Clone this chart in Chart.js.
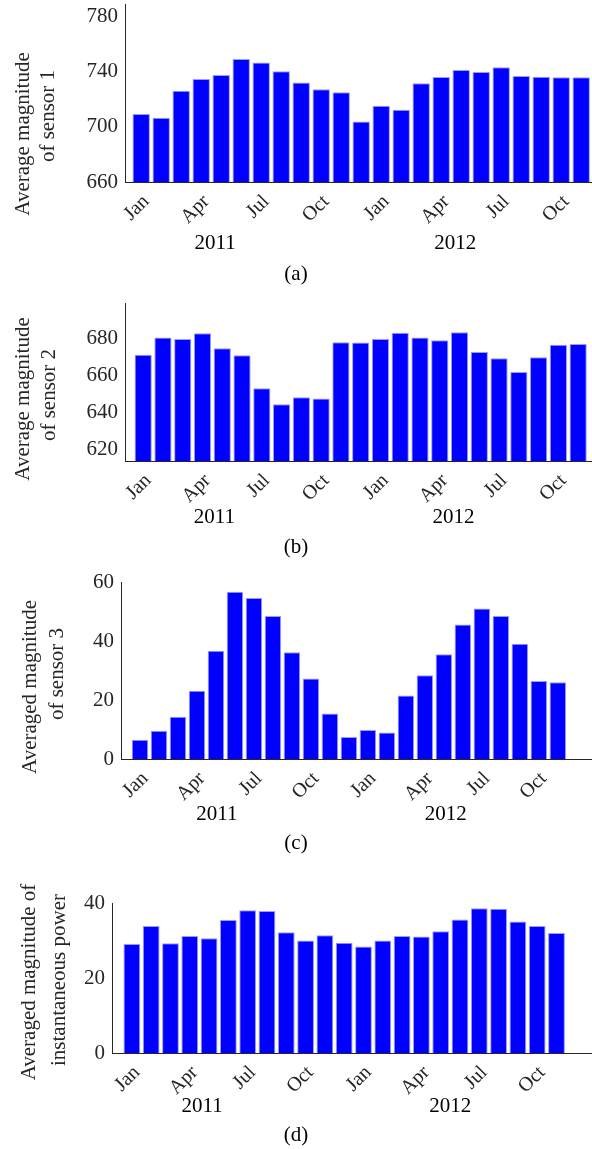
<!DOCTYPE html>
<html>
<head>
<meta charset="utf-8">
<script src="https://cdn.jsdelivr.net/npm/chart.js@4.4.1/dist/chart.umd.min.js"></script>
<style>
  body { margin: 0; background: #fff; }
  canvas { display: block; }
</style>
</head>
<body>
<canvas id="chart1" width="592" height="290"></canvas>
<canvas id="chart2" width="592" height="280"></canvas>
<canvas id="chart3" width="592" height="290"></canvas>
<canvas id="chart4" width="592" height="289"></canvas>
<script>
// 23 months, Jan 2011 .. Nov 2012
const months = ['Jan', 'Feb', 'Mar', 'Apr', 'May', 'Jun', 'Jul', 'Aug', 'Sep', 'Oct', 'Nov', 'Dec',
                'Jan', 'Feb', 'Mar', 'Apr', 'May', 'Jun', 'Jul', 'Aug', 'Sep', 'Oct', 'Nov'];
const monthTicks = [1, 4, 7, 10, 13, 16, 19, 22];
const years = ['2011', '2012'];

const sensor1 = [709.2, 706.6, 726.2, 734.6, 737.6, 749.2, 746.6, 740.2, 732.2, 727.2, 725.0,
                 703.8, 715.3, 712.4, 731.5, 736.1, 741.2, 739.8, 743.1, 736.9, 736.2, 736.0, 736.0];
const sensor2 = [671.0, 680.4, 679.6, 682.7, 674.6, 670.8, 653.0, 644.3, 648.1, 647.4, 677.8,
                 677.7, 679.6, 682.9, 680.4, 678.9, 683.2, 672.6, 669.2, 661.8, 669.7, 676.4, 676.8];
const sensor3 = [6.5, 9.6, 14.3, 23.1, 36.7, 56.7, 54.6, 48.5, 36.2, 27.3, 15.4,
                 7.5, 9.8, 9.0, 21.5, 28.4, 35.5, 45.6, 51.0, 48.5, 39.1, 26.4, 26.0];
const power = [29.1, 33.9, 29.3, 31.2, 30.6, 35.5, 38.1, 37.9, 32.2, 30.0, 31.4,
               29.4, 28.4, 30.0, 31.2, 31.1, 32.5, 35.6, 38.6, 38.5, 35.1, 33.9, 32.0];

const axisColor = '#262626';
const serif = 'Liberation Serif';

const panelText = {
  id: 'panelText',
  afterDraw(chart, args, opts) {
    const ctx = chart.ctx;
    const xs = chart.scales.x;
    ctx.save();
    ctx.font = '21px "' + serif + '"';
    ctx.textAlign = 'center';
    ctx.textBaseline = 'middle';
    ctx.fillStyle = axisColor;
    opts.yTitle.forEach(t => {
      ctx.save();
      ctx.translate(t.x, t.y);
      ctx.rotate(-Math.PI / 2);
      ctx.fillText(t.text, 0, 0);
      ctx.restore();
    });
    ctx.fillStyle = '#000';
    years.forEach((yr, i) => ctx.fillText(yr, xs.getPixelForValue(opts.yearAt[i]), opts.yearY));
    ctx.fillText(opts.caption, chart.width / 2, opts.captionY);
    ctx.restore();
  }
};

function makeChart(id, values, o) {
  return new Chart(document.getElementById(id), {
    type: 'bar',
    data: {
      labels: months,
      datasets: [{
        data: values.map((v, i) => ({ x: i + 1, y: v })),
        backgroundColor: '#0000ff',
        borderColor: '#9c9cff',
        borderWidth: 1,
        barPercentage: 0.87,
        categoryPercentage: 1
      }]
    },
    options: {
      responsive: false,
      animation: false,
      layout: { padding: { top: o.top, left: 0, right: 0, bottom: 0 } },
      plugins: {
        legend: { display: false },
        tooltip: { enabled: false },
        panelText: o.text
      },
      scales: {
        x: {
          type: 'linear',
          offset: false,
          min: o.xMin,
          max: o.xMax,
          afterBuildTicks: s => { s.ticks = monthTicks.map(v => ({ value: v })); },
          afterFit: s => { s.height = o.h - o.bottom; s.paddingLeft = 0; s.paddingRight = 0; },
          grid: { display: false, drawTicks: false },
          border: { color: axisColor, width: 1 },
          ticks: {
            autoSkip: false,
            maxRotation: 45,
            minRotation: 45,
            padding: 8,
            labelOffset: 5,
            color: axisColor,
            font: { family: serif, size: 20 },
            callback: v => months[v - 1]
          }
        },
        y: {
          min: o.yMin,
          max: o.yMax,
          afterBuildTicks: s => { s.ticks = o.yTicks.map(v => ({ value: v })); },
          afterFit: s => { s.width = o.left; s.paddingTop = 0; s.paddingBottom = 0; },
          grid: { display: false, drawTicks: false },
          border: { color: axisColor, width: 1 },
          ticks: {
            padding: 7,
            color: axisColor,
            font: { family: serif, size: 21 }
          }
        }
      }
    },
    plugins: [panelText]
  });
}

const chart1 = makeChart('chart1', sensor1, {
  yMin: 660, yMax: 789, yTicks: [660, 700, 740, 780],
  xMin: 0.19, xMax: 23.54, left: 125, top: 4, bottom: 182, h: 290,
  text: {
    yTitle: [{ text: 'Average magnitude', x: 23, y: 134 }, { text: 'of sensor 1', x: 48, y: 116 }],
    yearAt: [4.7, 16.7], yearY: 243, caption: '(a)', captionY: 274
  }
});

const chart2 = makeChart('chart2', sensor2, {
  yMin: 613.7, yMax: 699, yTicks: [620, 640, 660, 680],
  xMin: 0.08, xMax: 23.7, left: 125, top: 13, bottom: 171, h: 280,
  text: {
    yTitle: [{ text: 'Average magnitude', x: 23, y: 109 }, { text: 'of sensor 2', x: 49, y: 105 }],
    yearAt: [4.6, 16.7], yearY: 227, caption: '(b)', captionY: 257
  }
});

const chart3 = makeChart('chart3', sensor3, {
  yMin: 0, yMax: 60, yTicks: [0, 20, 40, 60],
  xMin: 0, xMax: 24.8, left: 121, top: 12, bottom: 189, h: 290,
  text: {
    yTitle: [{ text: 'Averaged magnitude', x: 30, y: 117 }, { text: 'of sensor 3', x: 57, y: 104 }],
    yearAt: [5.05, 17.1], yearY: 244, caption: '(c)', captionY: 273
  }
});

const chart4 = makeChart('chart4', power, {
  yMin: 0, yMax: 40, yTicks: [0, 20, 40],
  xMin: -0.03, xMax: 24.84, left: 112, top: 43, bottom: 193, h: 289,
  text: {
    yTitle: [{ text: 'Averaged magnitude of', x: 29, y: 122 }, { text: 'instantaneous power', x: 59, y: 120 }],
    yearAt: [4.64, 17.5], yearY: 246, caption: '(d)', captionY: 275
  }
});
</script>
</body>
</html>
